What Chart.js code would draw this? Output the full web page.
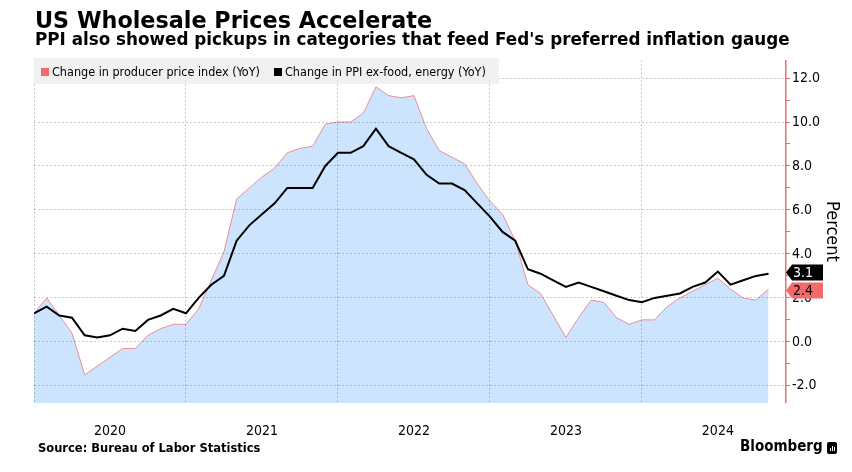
<!DOCTYPE html>
<html>
<head>
<meta charset="utf-8">
<script src="https://cdn.jsdelivr.net/npm/chart.js@4.4.1/dist/chart.umd.min.js"></script>
<style>
body{margin:0;background:#fff;}
#wrap{position:relative;width:852px;height:472px;overflow:hidden;font-family:"DejaVu Sans Condensed","DejaVu Sans",sans-serif;color:#000;}
#chart{position:absolute;left:0;top:0;}
.txt{position:absolute;white-space:nowrap;}
#title{left:35px;top:9px;font-family:"DejaVu Sans",sans-serif;font-size:22.3px;line-height:22.3px;font-weight:bold;}
#subtitle{left:35px;top:31px;font-family:"DejaVu Sans",sans-serif;font-size:16.8px;line-height:16.8px;font-weight:bold;}
#legend{position:absolute;left:34px;top:58px;width:465px;height:26px;background:rgba(238,238,238,0.85);font-size:12.5px;line-height:12.5px;}
#legend .item{position:absolute;top:8px;}
#legend .sw{display:inline-block;width:8px;height:8px;margin-right:3px;vertical-align:0px;}
#source{left:38px;top:443px;font-family:"DejaVu Sans",sans-serif;font-size:11.5px;line-height:11.5px;font-weight:bold;}
#brand{left:740px;top:439px;font-size:15px;line-height:15px;font-weight:bold;}
#icon{position:absolute;left:827px;top:442px;width:10px;height:12px;background:#000;border-radius:2px;}
#icon i{position:absolute;bottom:3px;width:1.5px;background:#fff;}
</style>
</head>
<body>
<div id="wrap">
  <canvas id="chart" width="852" height="472"></canvas>
  <div class="txt" id="title">US Wholesale Prices Accelerate</div>
  <div class="txt" id="subtitle">PPI also showed pickups in categories that feed Fed's preferred inflation gauge</div>
  <div id="legend"></div>
  <div class="txt" id="source">Source: Bureau of Labor Statistics</div>
  <div class="txt" id="brand">Bloomberg</div>
  <div id="icon"><i style="left:2.5px;height:3px"></i><i style="left:4.5px;height:5px"></i><i style="left:6.5px;height:4px"></i></div>
</div>
<script>
// monthly, Dec 2019 .. Oct 2024
const months = [
  "2019-12",
  "2020-01","2020-02","2020-03","2020-04","2020-05","2020-06","2020-07","2020-08","2020-09","2020-10","2020-11","2020-12",
  "2021-01","2021-02","2021-03","2021-04","2021-05","2021-06","2021-07","2021-08","2021-09","2021-10","2021-11","2021-12",
  "2022-01","2022-02","2022-03","2022-04","2022-05","2022-06","2022-07","2022-08","2022-09","2022-10","2022-11","2022-12",
  "2023-01","2023-02","2023-03","2023-04","2023-05","2023-06","2023-07","2023-08","2023-09","2023-10","2023-11","2023-12",
  "2024-01","2024-02","2024-03","2024-04","2024-05","2024-06","2024-07","2024-08","2024-09","2024-10"
];
const ppiHeadline = [
  1.3,
  2.0, 1.2, 0.4, -1.5, -1.1, -0.7, -0.3, -0.3, 0.3, 0.6, 0.8, 0.8,
  1.5, 2.8, 4.1, 6.5, 7.0, 7.5, 7.9, 8.6, 8.8, 8.9, 9.9, 10.0,
  10.0, 10.4, 11.6, 11.2, 11.1, 11.2, 9.7, 8.7, 8.4, 8.1, 7.2, 6.4,
  5.8, 4.6, 2.6, 2.2, 1.2, 0.2, 1.1, 1.9, 1.8, 1.1, 0.8, 1.0,
  1.0, 1.6, 2.0, 2.3, 2.6, 2.9, 2.4, 2.0, 1.9, 2.4
];
const ppiCore = [
  1.3,
  1.6, 1.2, 1.1, 0.3, 0.2, 0.3, 0.6, 0.5, 1.0, 1.2, 1.5, 1.3,
  2.0, 2.6, 3.0, 4.6, 5.3, 5.8, 6.3, 7.0, 7.0, 7.0, 8.0, 8.6,
  8.6, 8.9, 9.7, 8.9, 8.6, 8.3, 7.6, 7.2, 7.2, 6.9, 6.3, 5.7,
  5.0, 4.6, 3.3, 3.1, 2.8, 2.5, 2.7, 2.5, 2.3, 2.1, 1.9, 1.8,
  2.0, 2.1, 2.2, 2.5, 2.7, 3.2, 2.6, 2.8, 3.0, 3.1
];
const yearLabels = ["2020", "2021", "2022", "2023", "2024"];
const seriesNames = ["Change in producer price index (YoY)", "Change in PPI ex-food, energy (YoY)"];

const FONT = "'DejaVu Sans Condensed', 'DejaVu Sans', sans-serif";
const AXIS_RED = "#f26d6d";
const GRID = "rgba(0,0,0,0.2)";

function points(vals) {
  return vals.map((v, i) => ({x: i, y: v}));
}

// right axis line + value tags, drawn last so nothing covers them
const axisExtras = {
  id: "axisExtras",
  afterDraw(chart) {
    const ctx = chart.ctx;
    const ys = chart.scales.y;
    const ax = Math.round(ys.left) + 0.75;
    ctx.save();
    ctx.strokeStyle = AXIS_RED;
    ctx.lineWidth = 1.5;
    ctx.setLineDash([]);
    ctx.beginPath();
    ctx.moveTo(ax, ys.top);
    ctx.lineTo(ax, ys.bottom);
    ctx.stroke();
    ctx.restore();

    const x0 = ys.left + 1;
    const h = 16;
    let tags = chart.data.datasets.map(ds => {
      const v = ds.data[ds.data.length - 1].y;
      return {v: v, py: ys.getPixelForValue(v), bg: ds.tagColor, fg: ds.tagText};
    });
    tags.sort((a, b) => a.py - b.py);
    for (let i = 1; i < tags.length; i++) {
      const gap = tags[i].py - tags[i - 1].py;
      if (gap < h + 2) {
        const push = (h + 2 - gap) / 2;
        tags[i - 1].py -= push;
        tags[i].py += push;
      }
    }
    tags.forEach(t => {
      ctx.save();
      ctx.fillStyle = t.bg;
      ctx.beginPath();
      ctx.moveTo(x0, t.py);
      ctx.lineTo(x0 + 6, t.py - h / 2);
      ctx.lineTo(x0 + 37, t.py - h / 2);
      ctx.lineTo(x0 + 37, t.py + h / 2);
      ctx.lineTo(x0 + 6, t.py + h / 2);
      ctx.closePath();
      ctx.fill();
      ctx.fillStyle = t.fg;
      ctx.font = "14px " + FONT;
      ctx.textBaseline = "middle";
      ctx.fillText(t.v.toFixed(1), x0 + 7, t.py + 1);
      ctx.restore();
    });
  }
};

const chart = new Chart(document.getElementById("chart"), {
  type: "line",
  data: {
    datasets: [
      {
        label: seriesNames[0],
        data: points(ppiHeadline),
        borderColor: "#ee8c9a",
        borderWidth: 1,
        backgroundColor: "#cce4fd",
        fill: "start",
        pointRadius: 0,
        tension: 0,
        order: 1,
        legendColor: "#f46a6a",
        tagColor: "#f46a6a",
        tagText: "#000"
      },
      {
        label: seriesNames[1],
        data: points(ppiCore),
        borderColor: "#000",
        borderWidth: 2,
        fill: false,
        pointRadius: 0,
        tension: 0,
        order: 0,
        legendColor: "#000",
        tagColor: "#000",
        tagText: "#fff"
      }
    ]
  },
  options: {
    responsive: false,
    animation: false,
    layout: {padding: {left: 34, top: 60, right: 0, bottom: 0}},
    plugins: {legend: {display: false}, tooltip: {enabled: false}},
    scales: {
      x: {
        type: "linear",
        min: 0,
        max: 59.3,
        afterBuildTicks: s => {
          const t = [];
          for (let v = 0; v <= 54; v += 6) t.push({value: v});
          s.ticks = t;
        },
        afterFit: s => { s.height = 69; },
        border: {display: false, dash: [2, 2]},
        grid: {
          z: 1,
          drawTicks: false,
          color: c => (c.tick && c.tick.value % 12 === 0 ? GRID : "transparent")
        },
        ticks: {
          autoSkip: false,
          maxRotation: 0,
          padding: 20,
          color: "#000",
          font: {family: FONT, size: 14},
          callback: v => (v % 12 === 6 ? yearLabels[(v - 6) / 12] : "")
        }
      },
      y: {
        position: "right",
        min: -2.78,
        max: 12.82,
        afterBuildTicks: s => {
          const t = [];
          for (let v = -2; v <= 12; v++) t.push({value: v});
          s.ticks = t;
        },
        afterFit: s => { s.width = 67; },
        border: {display: false, dash: [2, 2]},
        grid: {
          z: 1,
          drawTicks: true,
          tickLength: 5,
          tickColor: AXIS_RED,
          color: c => (c.tick && c.tick.value % 2 === 0 ? GRID : "transparent")
        },
        ticks: {
          autoSkip: false,
          padding: 2,
          color: "#000",
          font: {family: FONT, size: 14},
          callback: v => (v % 2 === 0 ? v.toFixed(1) : "")
        },
        title: {
          display: true,
          text: "Percent",
          color: "#000",
          font: {family: FONT, size: 18},
          padding: {top: 10, bottom: 0}
        }
      }
    }
  },
  plugins: [axisExtras]
});

// legend built from the datasets
const legend = document.getElementById("legend");
const legendX = [7, 240];
chart.data.datasets.forEach((ds, i) => {
  const item = document.createElement("span");
  item.className = "item";
  item.style.left = legendX[i] + "px";
  const sw = document.createElement("span");
  sw.className = "sw";
  sw.style.background = ds.legendColor;
  item.appendChild(sw);
  item.appendChild(document.createTextNode(ds.label));
  legend.appendChild(item);
});
</script>
</body>
</html>
